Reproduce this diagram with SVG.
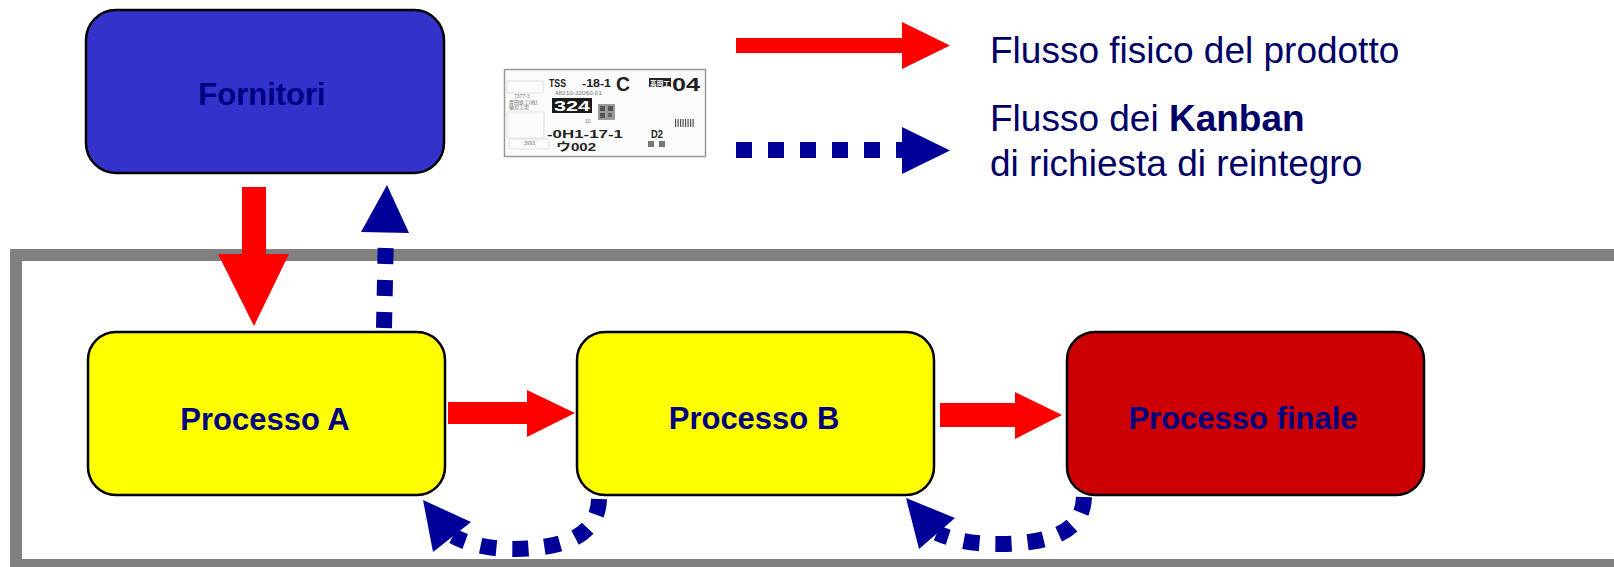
<svg xmlns="http://www.w3.org/2000/svg" width="1614" height="567" viewBox="0 0 1614 567">
<style>
.node{stroke:#000;stroke-width:2.5}
.lbl{font-family:"Liberation Sans",Arial,sans-serif;font-weight:bold;font-size:31px;fill:#000080;text-anchor:middle}
.leg{font-family:"Liberation Sans",Arial,sans-serif;font-size:37px;fill:#000066}
.red{fill:#FF0000}
.blue{fill:#000099}
.dash{fill:none;stroke:#000099;stroke-width:16;stroke-dasharray:16 16}
.card{font-family:"Liberation Sans","Noto Sans CJK JP",sans-serif;font-weight:bold;fill:#222}
.tiny{font-family:"Liberation Sans","Noto Sans CJK JP",sans-serif;font-size:5px;fill:#777}
.wt{fill:#fff}
</style>
<rect width="1614" height="567" fill="#fff"/>
<g id="frame">
<rect x="16" y="255" width="1700" height="310" fill="none" stroke="#808080" stroke-width="12"/>
</g>
<g id="fornitori">
<rect class="node" x="86" y="10" width="358" height="163" rx="30" fill="#3333CC"/>
<text class="lbl" x="262" y="105">Fornitori</text>
</g>
<g id="processo-a">
<rect class="node" x="88" y="332" width="357" height="163" rx="28" fill="#FFFF00"/>
<text class="lbl" x="265" y="430">Processo A</text>
</g>
<g id="processo-b">
<rect class="node" x="577" y="332" width="357" height="163" rx="28" fill="#FFFF00"/>
<text class="lbl" x="754" y="429">Processo B</text>
</g>
<g id="processo-finale">
<rect class="node" x="1067" y="332" width="357" height="163" rx="28" fill="#CC0000"/>
<text class="lbl" x="1243" y="429">Processo finale</text>
</g>
<g id="connectors">
<polygon class="red" points="242,187 266,187 266,254 289,254 254,326 218,254 242,254"/>
<path class="dash" d="M384 328 L386 232"/>
<polygon class="blue" points="387,185 409,233 361,232"/>
<polygon class="red" points="448,402 527,402 527,390 575,413 527,437 527,424 448,424"/>
<polygon class="red" points="940,403 1015,403 1015,392 1062,415 1015,439 1015,427 940,427"/>
<path class="dash" d="M599 499 C598 530 575 548 515 549 C490 549 470 545 453 536"/>
<polygon class="blue" points="423,500 471,522 433,552"/>
<path class="dash" d="M1084 497 C1083 527 1060 543 1001 544 C975 544 955 541 937 533"/>
<polygon class="blue" points="906,498 955,518 919,549"/>
</g>
<g id="legend">
<polygon class="red" points="736,38 902,38 902,22 950,45.5 902,69 902,53 736,53"/>
<text class="leg" x="990" y="63">Flusso fisico del prodotto</text>
<path class="dash" d="M736 150 L902 150"/>
<polygon class="blue" points="902,127 950,150.5 902,174"/>
<text class="leg" x="990" y="131">Flusso dei <tspan font-weight="bold">Kanban</tspan></text>
<text class="leg" x="990" y="176">di richiesta di reintegro</text>
</g>
<g id="kanban-card">
<rect x="504.5" y="69.5" width="201" height="87" fill="#fbfbfb" stroke="#9a9a9a" stroke-width="1.5"/>
<rect x="507" y="81" width="36" height="12" fill="none" stroke="#e2e2e2"/>
<rect x="507" y="112" width="37" height="26" fill="none" stroke="#e2e2e2"/>
<rect x="509" y="139" width="40" height="10" fill="none" stroke="#e2e2e2"/>
<text class="card" x="549" y="86.5" font-size="10" textLength="17" lengthAdjust="spacingAndGlyphs">TSS</text>
<text class="card" x="582" y="86.5" font-size="10" textLength="29" lengthAdjust="spacingAndGlyphs">-18-1</text>
<text class="card" x="616" y="90.5" font-size="21" textLength="14" lengthAdjust="spacingAndGlyphs">C</text>
<rect x="649" y="78" width="22" height="9" fill="#222"/>
<text class="card wt" x="650" y="85.5" font-size="7" textLength="20" lengthAdjust="spacingAndGlyphs">高岡工</text>
<text class="card" x="672" y="91" font-size="18" textLength="28" lengthAdjust="spacingAndGlyphs">04</text>
<text class="tiny" x="555" y="95" textLength="47" lengthAdjust="spacingAndGlyphs">48210-32060-01</text>
<text class="tiny" x="514" y="98">7377-3</text>
<text class="tiny" x="509" y="103.5">豊田鉄工(株)</text>
<text class="tiny" x="509" y="109">猿投工場</text>
<rect x="552" y="98" width="40" height="15" fill="#1a1a1a"/>
<text class="card wt" x="554" y="111" font-size="14" textLength="36" lengthAdjust="spacingAndGlyphs">324</text>
<rect x="598" y="104" width="17" height="16" fill="#9a9a9a"/>
<rect x="600" y="106" width="5" height="5" fill="#555"/>
<rect x="608" y="106" width="5" height="5" fill="#555"/>
<rect x="600" y="113" width="5" height="5" fill="#555"/>
<rect x="608" y="113" width="4" height="4" fill="#666"/>
<text class="tiny" x="585" y="123">10</text>
<g fill="#555">
<rect x="675" y="119" width="1.2" height="8"/><rect x="677.5" y="119" width="1.2" height="8"/><rect x="680" y="119" width="1.2" height="8"/><rect x="682.5" y="119" width="1.2" height="8"/><rect x="685" y="119" width="1.2" height="8"/><rect x="687.5" y="119" width="1.2" height="8"/><rect x="690" y="119" width="1.2" height="8"/><rect x="692.5" y="119" width="1.2" height="8"/>
</g>
<text class="card" x="547" y="138" font-size="10" textLength="76" lengthAdjust="spacingAndGlyphs">-0H1-17-1</text>
<text class="card" x="651" y="138" font-size="10" textLength="12" lengthAdjust="spacingAndGlyphs">D2</text>
<text class="card" x="556" y="151" font-size="11" textLength="40" lengthAdjust="spacingAndGlyphs">ウ002</text>
<text class="tiny" x="524" y="145">3993</text>
<rect x="648" y="141" width="6" height="6" fill="#777"/>
<rect x="659" y="141" width="6" height="6" fill="#777"/>
</g>
</svg>
